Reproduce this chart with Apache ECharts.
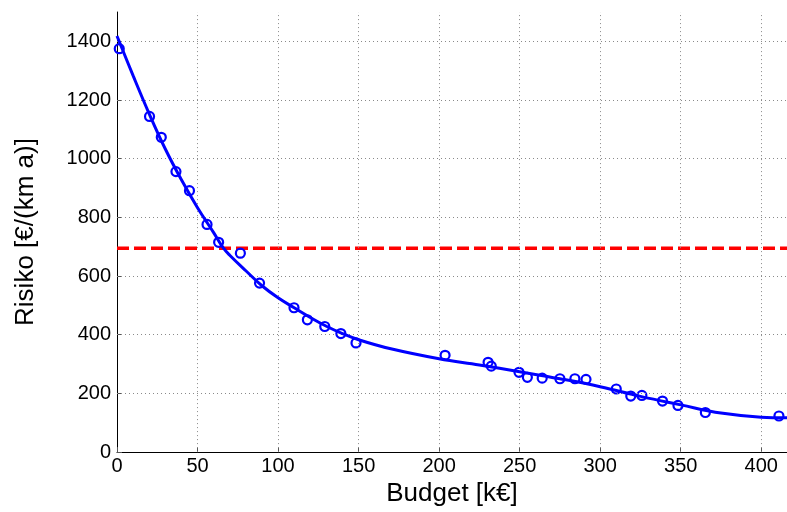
<!DOCTYPE html>
<html>
<head>
<meta charset="utf-8">
<script src="https://cdn.jsdelivr.net/npm/echarts@6/dist/echarts.min.js"></script>
<style>
html,body{margin:0;padding:0;background:#fff;}
#chart{width:787px;height:512px;}
</style>
</head>
<body>
<div id="chart"></div>
<script>
// Measured data points (Budget kEUR, Risiko EUR/(km a))
const pointX = [1.4, 20.2, 27.5, 36.6, 45, 55.9, 63.1, 76.6, 88.5, 109.9, 118.2, 129, 139, 148.4,
  203.7, 230.4, 232.4, 249.6, 254.8, 264, 275, 284.3, 291.2, 310, 319, 325.9, 338.7, 348.3, 365.3, 411];
const pointY = [1375, 1144, 1073, 956, 891, 776, 715, 678, 576, 492, 451, 428, 404, 372,
  330, 306, 293, 272, 255, 252, 250, 250, 248, 215, 191, 193, 174, 159, 135, 123];

// Fitted curve
const curveX = [0, 10, 20, 30, 40, 50, 60, 66, 70, 80, 90, 100, 110, 120, 130, 140, 150, 170, 200, 225, 250, 275, 300, 325, 350, 375, 400, 416];
const curveY = [1418, 1283, 1153, 1033, 928, 833, 748, 696, 671, 618, 567, 526, 492, 459, 429, 404, 383, 352, 318, 297, 274, 250, 223, 190, 161, 133, 119, 117];

// Threshold
const limitX = [0, 416];
const limitY = [695, 695];

// Axis ticks
const xTicks = [0, 50, 100, 150, 200, 250, 300, 350, 400];
const yTicks = [0, 200, 400, 600, 800, 1000, 1200, 1400];

const xName = 'Budget [k€]';
const yName = 'Risiko [€/(km a)]';

const chart = echarts.init(document.getElementById('chart'));
const font = 'Liberation Sans, Arial, sans-serif';

const gridLineStyle = {color: '#8a8a8a', type: [1, 3], width: 1};
const gridLines = [];
xTicks.filter(v => v > 0).forEach(v => gridLines.push({xAxis: v}));
yTicks.filter(v => v > 0).forEach(v => gridLines.push({yAxis: v}));

chart.setOption({
  backgroundColor: '#fff',
  animation: false,
  grid: {left: 117, right: 0, top: 12, bottom: 56, containLabel: false},
  xAxis: {
    type: 'value', min: 0, max: 416, interval: 50,
    name: xName, nameLocation: 'middle', nameGap: 28,
    nameTextStyle: {fontFamily: font, fontSize: 26, color: '#000'},
    axisLine: {show: true, lineStyle: {color: '#000', width: 1}},
    axisTick: {show: true, inside: true, length: 5, customValues: xTicks, lineStyle: {color: '#555'}},
    axisLabel: {customValues: xTicks, formatter: v => String(v), fontFamily: font, fontSize: 20, color: '#000', margin: 4},
    splitLine: {show: false}
  },
  yAxis: {
    type: 'value', min: 0, max: 1500, interval: 200,
    name: yName, nameLocation: 'middle', nameGap: 78, nameRotate: 90,
    nameTextStyle: {fontFamily: font, fontSize: 26, color: '#000'},
    axisLine: {show: true, onZero: false, lineStyle: {color: '#000', width: 1}},
    axisTick: {show: true, inside: true, length: 5, customValues: yTicks, lineStyle: {color: '#555'}},
    axisLabel: {customValues: yTicks, formatter: v => String(v), fontFamily: font, fontSize: 20, color: '#000', margin: 6},
    splitLine: {show: false}
  },
  series: [
    {
      type: 'line', data: [], z: 1, silent: true,
      markLine: {silent: true, symbol: 'none', label: {show: false}, lineStyle: gridLineStyle,
        emphasis: {disabled: true}, data: gridLines, animation: false}
    },
    {
      type: 'line', z: 3, data: limitX.map((x, i) => [x, limitY[i]]),
      showSymbol: false, lineStyle: {color: '#ff0000', width: 3.5, type: [12, 5]}
    },
    {
      type: 'scatter', z: 4, data: pointX.map((x, i) => [x, pointY[i]]),
      symbol: 'circle', symbolSize: 9,
      itemStyle: {color: 'rgba(0,0,0,0)', borderColor: '#0000ff', borderWidth: 2.2, opacity: 1}
    },
    {
      type: 'line', z: 5, smooth: 0.4, data: curveX.map((x, i) => [x, curveY[i]]),
      showSymbol: false, lineStyle: {color: '#0000ff', width: 3}
    }
  ]
});
</script>
</body>
</html>
